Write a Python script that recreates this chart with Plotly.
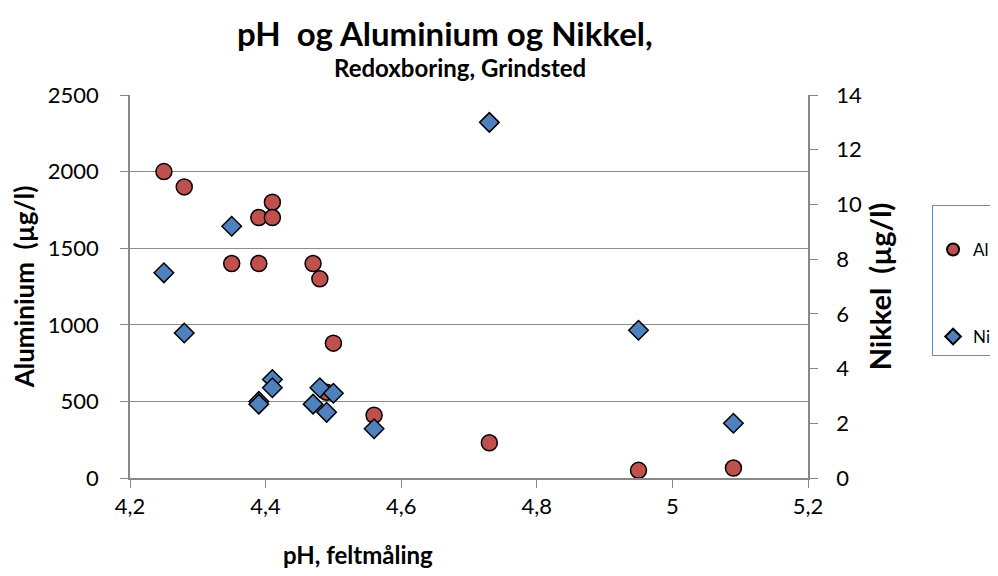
import plotly.graph_objects as go

ph = [4.25, 4.28, 4.35, 4.39, 4.39, 4.41, 4.41, 4.47, 4.48, 4.49, 4.50, 4.56, 4.73, 4.95, 5.09]
aluminium = [2000, 1900, 1400, 1700, 1400, 1800, 1700, 1400, 1300, 560, 880, 410, 230, 50, 65]
ph_ni = [4.25, 4.28, 4.35, 4.39, 4.39, 4.41, 4.41, 4.47, 4.48, 4.49, 4.50, 4.56, 4.73, 4.95, 5.09]
nikkel = [7.5, 5.3, 9.2, 2.8, 2.7, 3.6, 3.3, 2.7, 3.3, 2.4, 3.1, 1.8, 13.0, 5.4, 2.0]

x_ticks = [4.2, 4.4, 4.6, 4.8, 5.0, 5.2]
x_ticklabels = ["4,2", "4,4", "4,6", "4,8", "5", "5,2"]

title_text = "pH  og Aluminium og Nikkel,"
subtitle_text = "Redoxboring, Grindsted"
x_title = "pH, feltmåling"

FONT = "Lato"

fig = go.Figure()
fig.add_trace(go.Scatter(
    x=ph, y=aluminium, mode="markers", name="Al", legendgroup="al",
    marker=dict(symbol="circle", size=16, color="#C0504D", line=dict(color="black", width=1.5)),
))
fig.add_trace(go.Scatter(
    x=ph_ni, y=nikkel, mode="markers", name="Ni", yaxis="y2", legendgroup="ni",
    marker=dict(symbol="diamond", size=15, color="#4F81BD", line=dict(color="black", width=1.5)),
))

# the page adds an 8px body margin, so the figure is sized/offset to compensate
fig.update_layout(
    width=982, height=560,
    margin=dict(l=122, r=182, t=87, b=90, autoexpand=False),
    paper_bgcolor="white", plot_bgcolor="white",
    separators=", ",
    font=dict(family=FONT, color="black"),
    xaxis=dict(
        range=[4.2, 5.2], tickvals=x_ticks, ticktext=x_ticklabels,
        showgrid=False, zeroline=False,
        showline=True, linecolor="#888888", linewidth=1.5,
        ticks="outside", ticklen=8, tickcolor="#888888",
        tickfont=dict(size=22),
    ),
    yaxis=dict(
        range=[0, 2500], dtick=500,
        showgrid=True, gridcolor="#8c8c8c", gridwidth=1, zeroline=False,
        showline=True, linecolor="#888888", linewidth=1.5,
        ticks="outside", ticklen=8, tickcolor="#888888",
        tickfont=dict(size=22), ticklabelstandoff=17,
        title=dict(text="<b>Aluminium  (µg/l)</b>", font=dict(size=26), standoff=6),
    ),
    yaxis2=dict(
        range=[0, 14], dtick=2, overlaying="y", side="right",
        showgrid=False, zeroline=False,
        showline=True, linecolor="#888888", linewidth=1.5,
        ticks="outside", ticklen=8, tickcolor="#888888",
        tickfont=dict(size=22), ticklabelstandoff=14,
        title=dict(text="<b>Nikkel  (µg/l)</b>", font=dict(size=29), standoff=9),
    ),
    legend=dict(
        x=1.183, xanchor="left", y=0.713, yanchor="top",
        bordercolor="#5b8fd0", borderwidth=1, bgcolor="white",
        font=dict(size=17), tracegroupgap=62, itemsizing="constant",
        title=dict(text="&nbsp;", font=dict(size=20)),
    ),
    showlegend=True,
    annotations=[
        dict(text="<b>" + title_text + "</b>", xref="paper", yref="paper",
             x=0.465, y=1.0, yshift=62, xanchor="center", yanchor="middle",
             showarrow=False, font=dict(size=33, family=FONT)),
        dict(text="<b>" + subtitle_text + "</b>", xref="paper", yref="paper",
             x=0.487, y=1.0, yshift=28, xanchor="center", yanchor="middle",
             showarrow=False, font=dict(size=24, family=FONT)),
        dict(text="<b>" + x_title + "</b>", xref="paper", yref="paper",
             x=0.337, y=0.0, yshift=-76, xanchor="center", yanchor="middle",
             showarrow=False, font=dict(size=24, family=FONT)),
    ],
)

fig.write_html("out.html")
